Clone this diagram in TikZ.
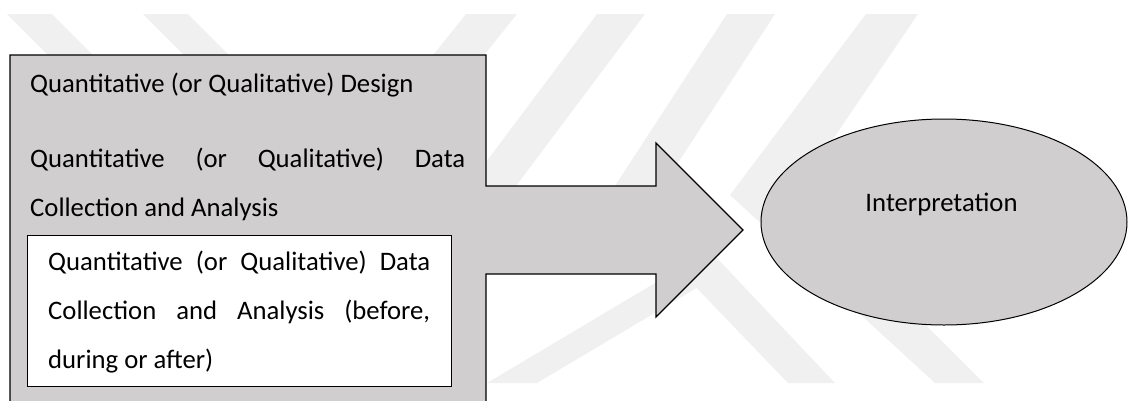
\documentclass[tikz,border=0pt]{standalone}
\usepackage{fontspec}
\setmainfont{Carlito}
\usetikzlibrary{shapes.geometric}
\definecolor{shapegray}{RGB}{208,206,206}
\definecolor{wmgray}{RGB}{240,240,240}
\begin{document}
\begin{tikzpicture}[x=1pt,y=-1pt,
  wm/.style={fill=wmgray, draw=none},
  outline/.style={draw=black, line width=1.2pt, line join=miter},
  txt/.style={font=\fontsize{26.7}{26.7}\selectfont, inner sep=0pt, anchor=base west},
  ctxt/.style={font=\fontsize{26.7}{26.7}\selectfont, inner sep=0pt, anchor=base}]
\useasboundingbox (0,0) rectangle (1128,400);
\clip (0,0) rectangle (1128,400);
% faint watermark
\fill[wm] (7,14) -- (52,14) -- (112,74) -- (67,74) -- cycle;
\fill[wm] (143,14) -- (188,14) -- (248,74) -- (203,74) -- cycle;
\fill[wm] (466,14) -- (517,14) -- (437,114) -- (386,114) -- cycle;
\fill[wm] (597,14) -- (645,14) -- (516,186) -- (468,186) -- cycle;
\fill[wm] (727,14) -- (775,14) -- (657,195) -- (609,195) -- cycle;
\fill[wm] (612,200) -- (662,200) -- (835,383) -- (788,383) -- cycle;
\fill[wm] (487,383) -- (537,383) -- (705,283) -- (655,283) -- cycle;
\fill[wm] (866,14) -- (918,14) -- (795,195) -- (984,383) -- (935,383) -- (730,195) -- cycle;
% main arrow-shaped box
\path[outline, fill=shapegray] (10,55) -- (486,55) -- (486,186) -- (656,186) -- (656,143)
  -- (743,230) -- (656,317) -- (656,274) -- (486,274) -- (486,410) -- (10,410) -- cycle;
% inner white box
\node[draw=black, line width=1pt, fill=white, inner sep=0pt, minimum width=424pt,
  minimum height=151pt, anchor=north west] (inner) at (27,235) {};
% ellipse
\node[ellipse, draw=black, line width=1pt, fill=shapegray, inner sep=0pt,
  minimum width=366pt, minimum height=206pt] (interp) at (944,222) {};
\node[ctxt] (interptext) at (941.5,211) {Interpretation};
% texts
\node[txt] (t1) at (30,92) {Quantitative (or Qualitative) Design};
\node[txt] (t2) at (30,167) {\makebox[435pt][s]{Quantitative (or Qualitative) Data}};
\node[txt] (t3) at (30,216) {Collection and Analysis};
\node[txt] (t4) at (48,270) {\makebox[382pt][s]{Quantitative (or Qualitative) Data}};
\node[txt] (t5) at (48,319) {\makebox[382pt][s]{Collection and Analysis (before,}};
\node[txt] (t6) at (48,368) {during or after)};
\end{tikzpicture}
\end{document}
